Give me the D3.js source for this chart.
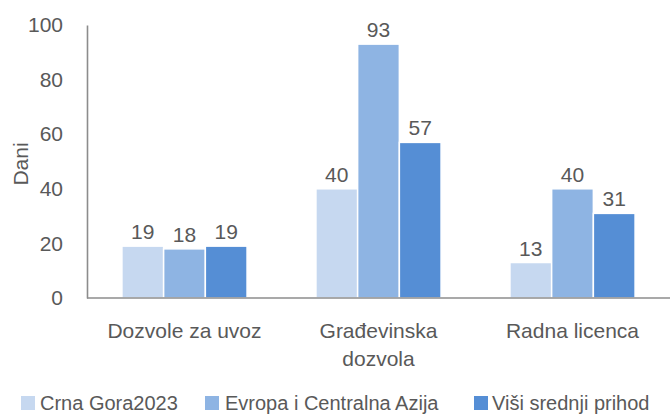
<!DOCTYPE html>
<html>
<head>
<meta charset="utf-8">
<script src="https://cdn.jsdelivr.net/npm/d3@7"></script>
<style>
  body { margin: 0; background: #fff; }
  text { font-family: "Liberation Sans", Arial, sans-serif; fill: #595959; }
</style>
</head>
<body>
<div class="chart"></div>
<script>
// data
var categories = [["Dozvole za uvoz"], ["Građevinska", "dozvola"], ["Radna licenca"]];
var seriesNames = ["Crna Gora2023", "Evropa i Centralna Azija", "Viši srednji prihod"];
var crnaGora = [19, 40, 13];
var evropa = [18, 93, 40];
var visiSrednji = [19, 57, 31];
var yTicks = [0, 20, 40, 60, 80, 100];
var colors = ["#c6d8f0", "#8eb4e3", "#558ed5"];

var series = [crnaGora, evropa, visiSrednji];

var svgWidth = 670;
var svgHeight = 415;
var margin = { top: 25, right: 0, bottom: 117, left: 87 };
var width = svgWidth - margin.left - margin.right;
var height = svgHeight - margin.top - margin.bottom;

var svg = d3.select(".chart")
    .append("svg")
    .attr("width", svgWidth)
    .attr("height", svgHeight);

var chart = svg.append("g")
    .attr("transform", "translate(" + margin.left + "," + margin.top + ")");

var xScale = d3.scaleBand()
    .domain(d3.range(categories.length))
    .range([0, width])
    .paddingInner(0.355)
    .paddingOuter(0.18);

var xInner = d3.scaleBand()
    .domain(d3.range(series.length))
    .range([0, xScale.bandwidth()]);

var yScale = d3.scaleLinear()
    .domain([0, 100])
    .range([height, 0]);

// bars and value labels
series.forEach(function(values, s) {
    chart.selectAll(".bar" + s)
        .data(values)
        .enter()
        .append("rect")
        .attr("x", function(d, i) { return xScale(i) + xInner(s); })
        .attr("y", function(d) { return yScale(d); })
        .attr("width", xInner.bandwidth())
        .attr("height", function(d) { return height - yScale(d); })
        .attr("fill", colors[s])
        .attr("stroke", "#fff")
        .attr("stroke-width", 1.5);

    chart.selectAll(".label" + s)
        .data(values)
        .enter()
        .append("text")
        .attr("x", function(d, i) { return xScale(i) + xInner(s) + xInner.bandwidth() / 2; })
        .attr("y", function(d) { return yScale(d) - 7; })
        .attr("text-anchor", "middle")
        .style("font-size", "21px")
        .text(function(d) { return d; });
});

// y axis
var leftAxis = d3.axisLeft(yScale).tickValues(yTicks).tickSize(0).tickPadding(24);
var yAxis = chart.append("g").call(leftAxis);
yAxis.select(".domain").attr("stroke", "#8c8c8c").attr("stroke-width", 1.6);
yAxis.selectAll("text")
    .style("font-size", "21px")
    .style("font-family", "'Liberation Sans', Arial, sans-serif")
    .attr("fill", "#595959");

// x axis
chart.append("line")
    .attr("x1", 0)
    .attr("x2", width)
    .attr("y1", height)
    .attr("y2", height)
    .attr("stroke", "#8c8c8c")
    .attr("stroke-width", 1.6);

categories.forEach(function(lines, i) {
    var cx = xScale(i) + xScale.bandwidth() / 2;
    var t = chart.append("text")
        .attr("x", cx)
        .attr("y", height + 40)
        .attr("text-anchor", "middle")
        .style("font-size", "21px");
    lines.forEach(function(line, j) {
        t.append("tspan")
            .attr("x", cx)
            .attr("dy", j === 0 ? 0 : 28)
            .text(line);
    });
});

// y axis title
svg.append("text")
    .attr("transform", "translate(28,164) rotate(-90)")
    .attr("text-anchor", "middle")
    .style("font-size", "21px")
    .text("Dani");

// legend, kept just inside the bottom edge
var legendSquareX = [21, 205, 474];
var legendTextX = [40, 225, 492];
seriesNames.forEach(function(name, s) {
    svg.append("rect")
        .attr("x", legendSquareX[s])
        .attr("y", 396)
        .attr("width", 14)
        .attr("height", 14)
        .attr("fill", colors[s]);
    svg.append("text")
        .attr("x", legendTextX[s])
        .attr("y", 410)
        .style("font-size", "20px")
        .text(name);
});
</script>
</body>
</html>
